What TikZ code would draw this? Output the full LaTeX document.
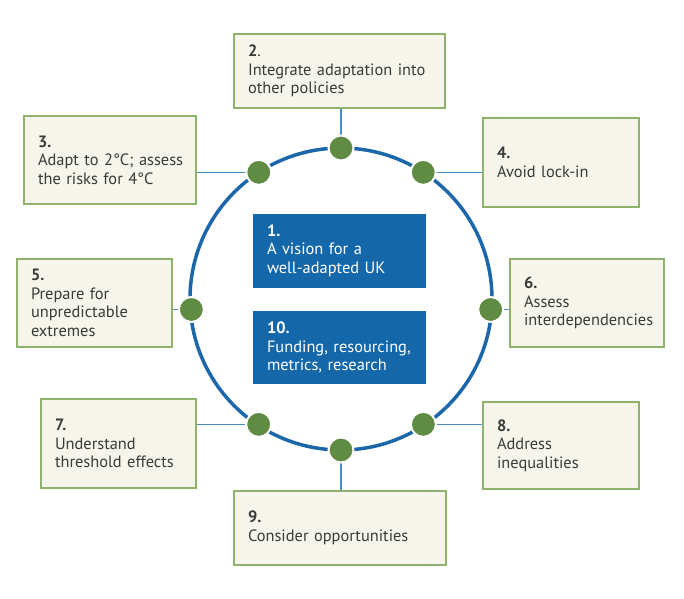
\documentclass[tikz,border=0pt]{standalone}
\usepackage{fontspec}
\setmainfont{PT Sans}
\usepackage{tikz}
\hyphenpenalty=10000\relax
\hbadness=10000\relax
\hfuzz=20pt\relax

\definecolor{cream}{HTML}{F6F5EC}
\definecolor{leaf}{HTML}{8EB26C}
\definecolor{moss}{HTML}{5F8B43}
\definecolor{ringblue}{HTML}{1B67A9}
\definecolor{linkblue}{HTML}{4A8CC6}
\definecolor{deepblue}{HTML}{1468AA}
\definecolor{ink}{HTML}{3A3A3A}

\begin{document}
\begin{tikzpicture}
        [
        x=1pt, y=1pt,
        every node/.style={font=\fontsize{16.4}{18.5}\selectfont},
        goal/.style={rectangle,draw=leaf,line width=1.2pt,fill=cream,text=ink,
            align=left,inner xsep=14pt,inner ysep=0pt},
        core/.style={rectangle,fill=deepblue,text=white,
            align=left,inner xsep=14pt,inner ysep=0pt,
            text width=145pt,minimum height=74pt},
        dot/.style={circle,fill=moss,draw=white,line width=2pt,
            minimum size=25pt,inner sep=0pt},
        ring/.style={draw=ringblue,line width=3.5pt},
        link/.style={draw=linkblue,line width=1.2pt}
        ]
    \useasboundingbox (0,0) rectangle (684,598);
    \coordinate (c) at (341,299);

    \node[goal,text width=183pt,minimum height=74pt] (b2) at (339.5,527)
        {\textbf{2}.\\Integrate adaptation into\\other policies};
    \node[goal,text width=144pt,minimum height=88pt] (b3) at (110,438)
        {\textbf{3.}\\\mbox{Adapt to 2°C; assess}\\the risks for 4°C};
    \node[goal,text width=128pt,minimum height=89pt] (b4) at (561,435.5)
        {\textbf{4.}\\Avoid lock-in};
    \node[goal,text width=127pt,minimum height=88pt] (b5) at (94.5,295)
        {\textbf{5.}\\Prepare for\\unpredictable\\extremes};
    \node[goal,text width=126pt,minimum height=88pt] (b6) at (587,295)
        {\textbf{6.}\\Assess\\interdependencies};
    \node[goal,text width=127pt,minimum height=89pt] (b7) at (118.5,154.5)
        {\textbf{7.}\\Understand\\threshold effects};
    \node[goal,text width=128pt,minimum height=87pt] (b8) at (561,152.5)
        {\textbf{8.}\\Address\\inequalities};
    \node[goal,text width=184pt,minimum height=74pt] (b9) at (340,70)
        {\textbf{9.}\\Consider opportunities};

    \node[core] (b1) at (339.5,347.5) {\textbf{1.}\\A vision for a\\well-adapted UK};
    \node[core,minimum height=73pt] (b10) at (339.5,250.5)
        {\textbf{10.}\\Funding, resourcing,\\metrics, research};

    % dots on the ring
    \coordinate (d2) at ([shift={(90:151)}]c);
    \coordinate (d3) at ([shift={(123:151)}]c);
    \coordinate (d4) at ([shift={(57:151)}]c);
    \coordinate (d5) at ([shift={(184:150)}]c);
    \coordinate (d6) at ([shift={(-4:150)}]c);
    \coordinate (d7) at ([shift={(236.7:150)}]c);
    \coordinate (d8) at ([shift={(303.3:150)}]c);
    \coordinate (d9) at ([shift={(270:151)}]c);

    \draw[link] (d2) -- (d2 |- b2.south);
    \draw[link] (d3) -- (d3 -| b3.east);
    \draw[link] (d4) -- (d4 -| b4.west);
    \draw[link] (d5) -- (d5 -| b5.east);
    \draw[link] (d6) -- (d6 -| b6.west);
    \draw[link] (d7) -- (d7 -| b7.east);
    \draw[link] (d8) -- (d8 -| b8.west);
    \draw[link] (d9) -- (d9 |- b9.north);

    \draw[ring] (c) circle[radius=151];

    \foreach \i in {2,...,9}
        \node[dot] (n\i) at (d\i) {};
    \end{tikzpicture}
\end{document}
